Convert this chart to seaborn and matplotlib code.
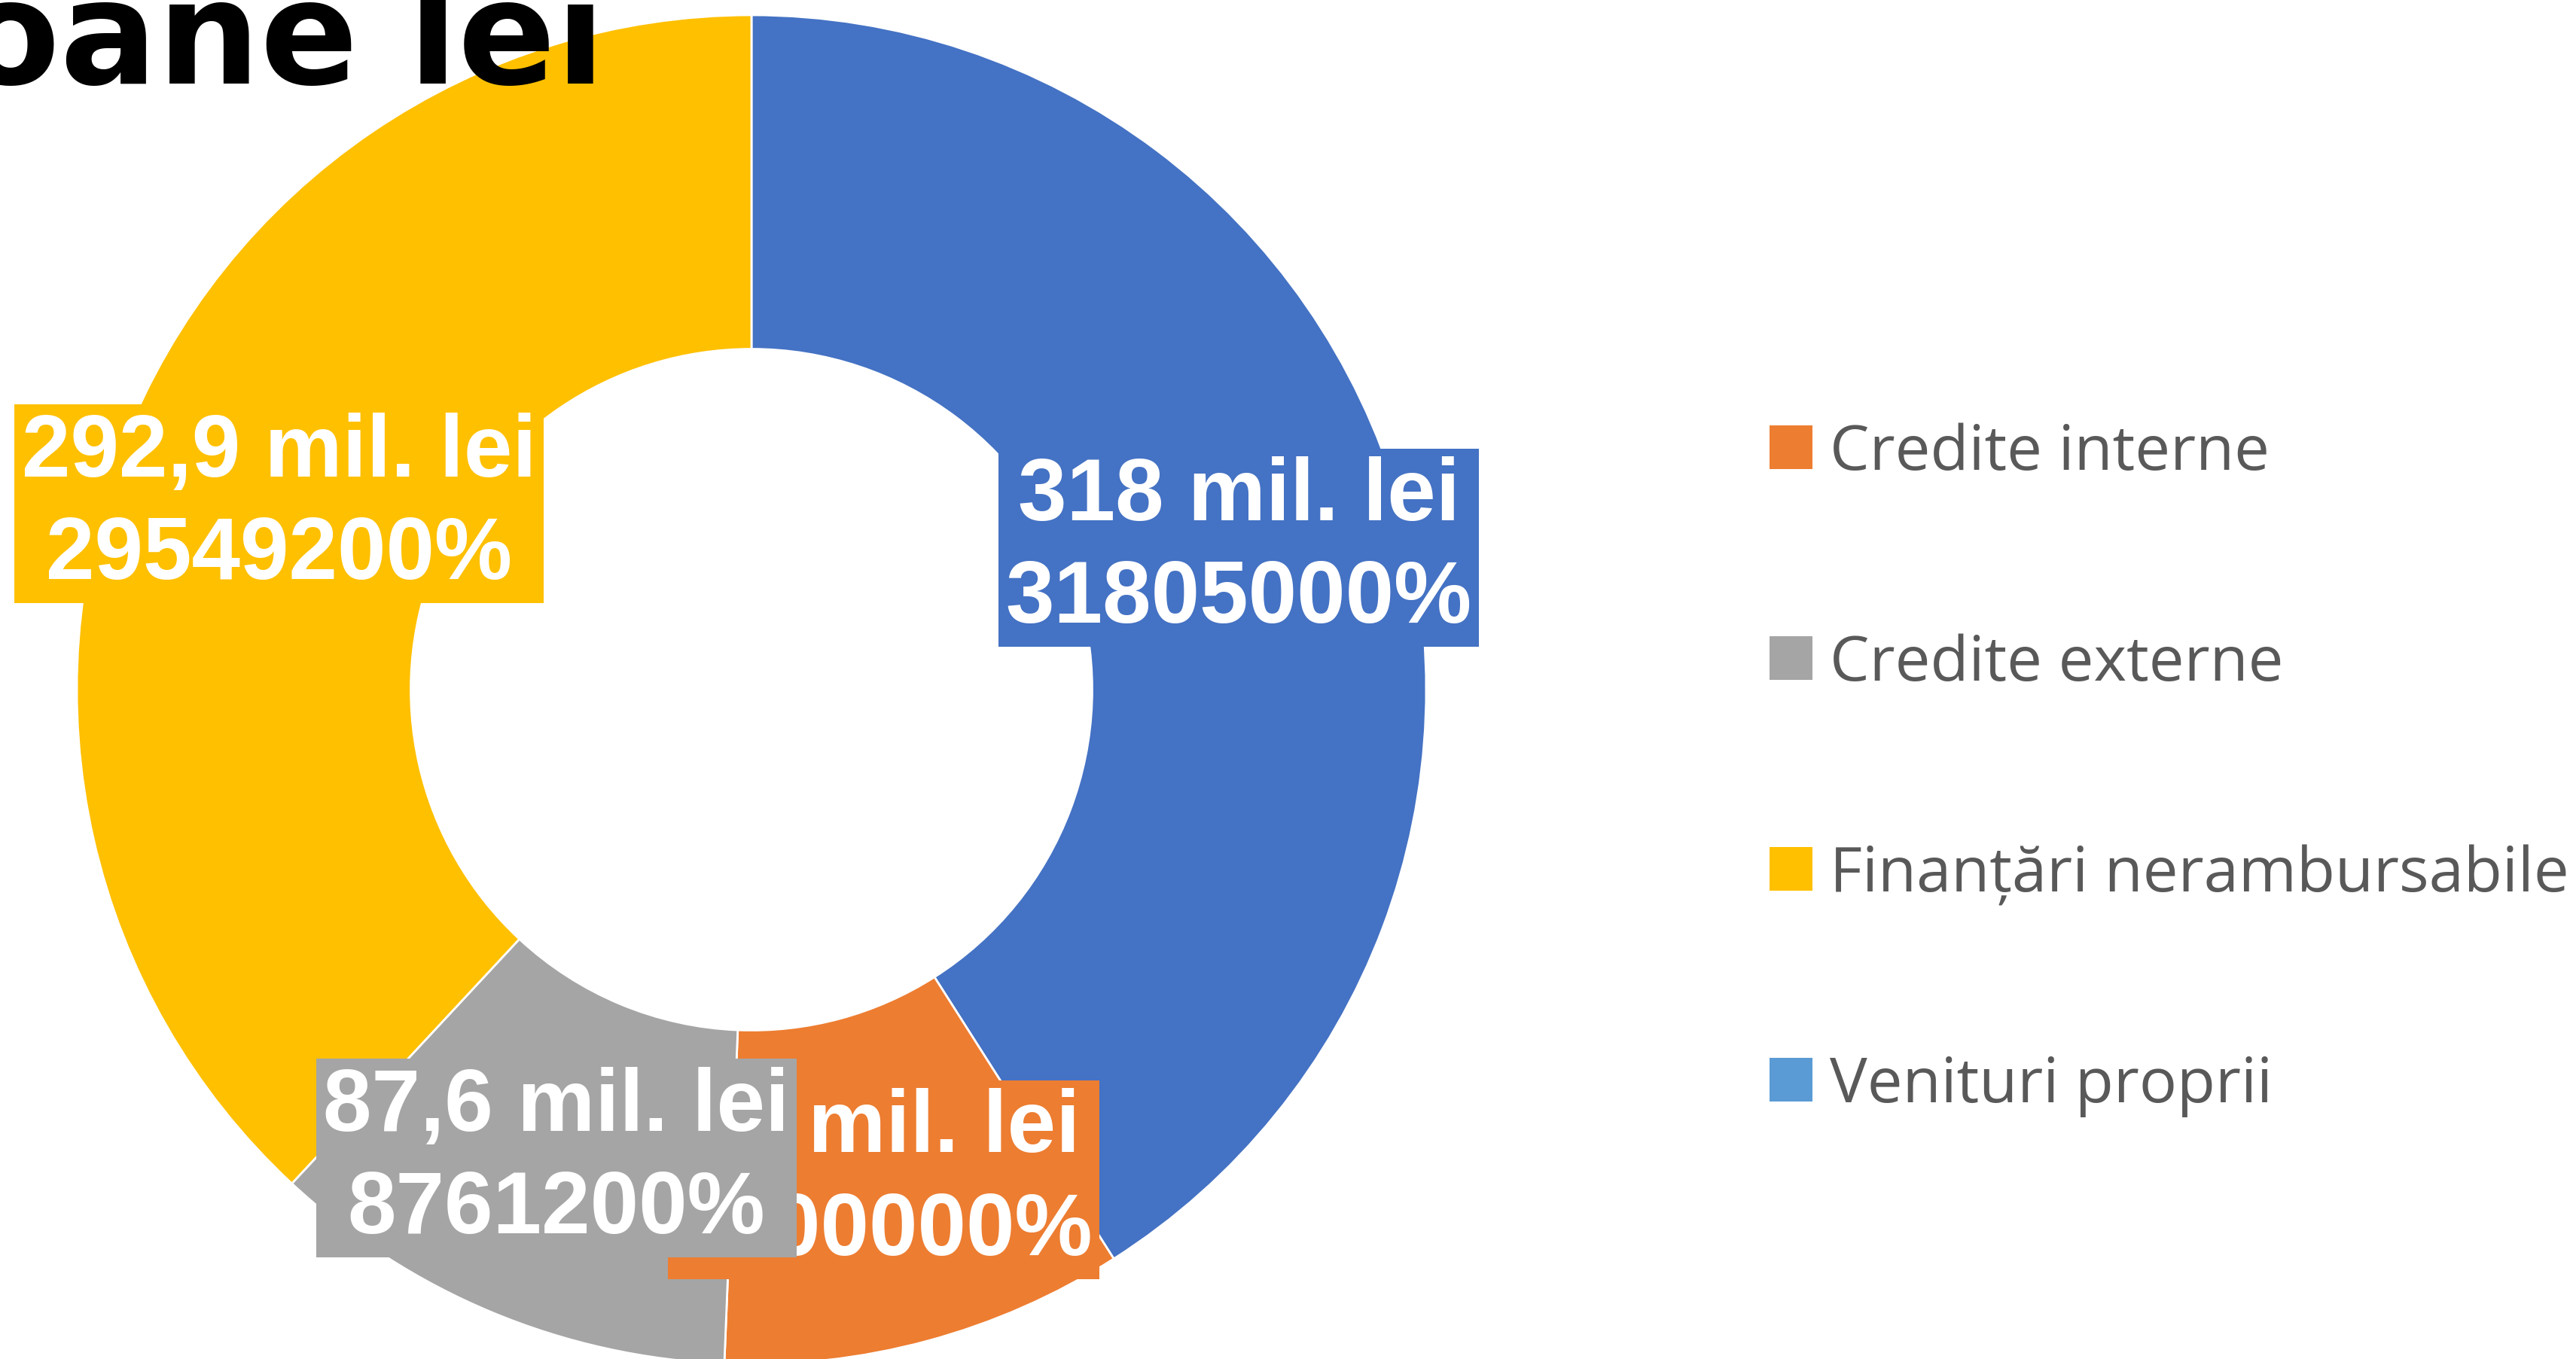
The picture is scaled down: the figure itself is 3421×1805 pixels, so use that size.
import matplotlib
matplotlib.use("Agg")
import matplotlib.pyplot as plt
from matplotlib.patches import Patch
import seaborn as sns

# ---- data (clockwise from 12 o'clock) ----
categories = ["Venituri proprii", "Credite interne", "Credite externe", "Finanțări nerambursabile"]
values = [318.05, 75.0, 87.612, 295.492]
value_labels = ["318 mil. lei", "75 mil. lei", "87,6 mil. lei", "292,9 mil. lei"]
percent_labels = ["31805000%", "7500000%", "8761200%", "29549200%"]
slice_colors = ["#4472C4", "#ED7D31", "#A5A5A5", "#FFC000"]

legend_labels = ["Credite interne", "Credite externe", "Finanțări nerambursabile", "Venituri proprii"]
legend_colors = ["#ED7D31", "#A5A5A5", "#FFC000", "#5B9BD5"]

title_text = "Surse de finanțare, milioane lei"

sns.set_theme(style="white")
plt.rcParams["font.family"] = ["Liberation Sans", "DejaVu Sans"]

W, H = 3421, 1806
fig = plt.figure(figsize=(W / 100, H / 100), dpi=100)
fig.patch.set_facecolor("white")

cx, cy, R = 998, 917, 896
ax = fig.add_axes([(cx - R) / W, 1 - (cy + R) / H, 2 * R / W, 2 * R / H])

labels = [f"{v}\n{p}" for v, p in zip(value_labels, percent_labels)]
wedges, texts = ax.pie(
    values,
    labels=labels,
    colors=slice_colors,
    startangle=90,
    counterclock=False,
    labeldistance=0.7525,
    radius=1.0,
    wedgeprops=dict(width=0.495, edgecolor="white", linewidth=2),
)
for t, c in zip(texts, slice_colors):
    t.set_ha("center")
    t.set_va("center")
    t.set_color("white")
    t.set_fontsize(83.5)
    t.set_fontweight("bold")
    t.set_fontfamily(["Liberation Sans", "DejaVu Sans"])
    t.set_linespacing(1.32)
    t.set_bbox(dict(facecolor=c, edgecolor="none", boxstyle="square,pad=0.08"))

ax.set_xlim(-1, 1)
ax.set_ylim(-1, 1)
ax.set_axis_off()

# title (overflowing the canvas at the top-left, as in the reference)
fig.text(804 / W, 1 - 111 / H, title_text, ha="right", va="baseline",
         fontsize=138, fontweight="bold", color="black",
         family=["DejaVu Sans"])

handles = [Patch(facecolor=c, edgecolor="none") for c in legend_colors]
leg = fig.legend(
    handles, legend_labels,
    loc="center left", bbox_to_anchor=(2350 / W, 1 - 1023 / H),
    frameon=False, borderpad=0, borderaxespad=0,
    handlelength=0.68, handleheight=0.68, handletextpad=0.28,
    labelspacing=2.37,
    prop=dict(family=["Open Sans", "DejaVu Sans"], size=60),
)
for txt in leg.get_texts():
    txt.set_color("#595959")

fig.savefig("out.png", dpi=100, facecolor="white")
